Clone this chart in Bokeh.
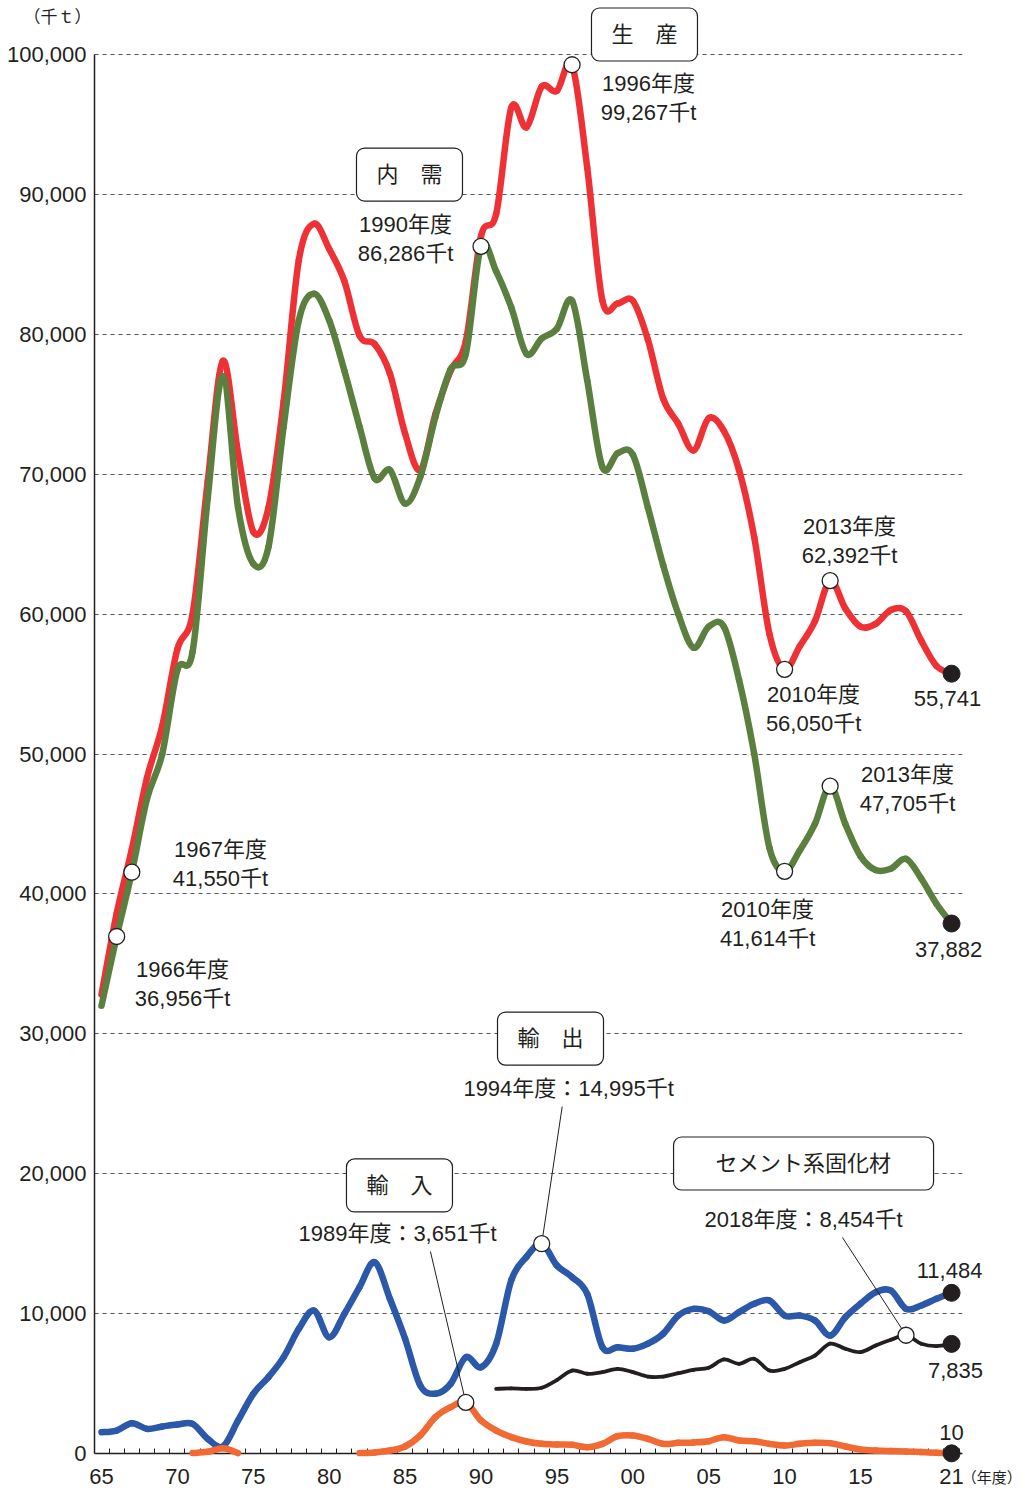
import math
from bokeh.plotting import figure
from bokeh.models import Range1d, FixedTicker, NumeralTickFormatter, Label
from bokeh.core.properties import value
from bokeh.embed import file_html
from bokeh.resources import INLINE

NaN = float("nan")

# ---------------- data (thousand tonnes, fiscal years) ----------------
years = list(range(1965, 2022))

production = [
    32800, 38600, 43200, 48300, 52000, 57500, 60000, 69500, 78100, 71500,
    65900, 67600, 75200, 85300, 87900, 86100, 83800, 79900, 79300, 77200,
    72900, 70300, 74300, 77400, 79500, 87000, 88600, 96200, 94800, 97700,
    97400, 99267, 91900, 82400, 82200, 82400, 79600, 75400, 73600, 71700,
    74000, 73100, 70300, 65500, 58600, 56050, 57700, 59500, 62392, 60400,
    59100, 59300, 60300, 60200, 58100, 56300, 55741]

domestic = [
    32000, 36956, 41550, 46800, 50000, 56000, 57300, 68300, 77000, 67600,
    63600, 64800, 73400, 81000, 82900, 81000, 77400, 73400, 69700, 70300,
    67900, 69800, 74100, 77500, 78600, 86286, 84500, 81900, 78600, 79700,
    80400, 82400, 76700, 70500, 71500, 71400, 67600, 63500, 60000, 57600,
    59100, 59100, 55300, 50000, 43300, 41614, 43100, 45000, 47705, 45000,
    42700, 41700, 41800, 42500, 41100, 39300, 37882]

exports = [
    1520, 1640, 2170, 1760, 1930, 2070, 2120, 1050, 500, 2360,
    4270, 5460, 6890, 8910, 10220, 8310, 9980, 11890, 13670, 11060,
    8200, 4860, 4270, 4980, 6880, 6170, 7840, 12400, 14060, 14995,
    13440, 12610, 11400, 7600, 7600, 7490, 7850, 8560, 9860, 10340,
    10170, 9510, 10100, 10700, 10940, 9860, 9860, 9510, 8430, 9740,
    10700, 11530, 11650, 10340, 10580, 11060, 11484]

imports = [
    NaN, NaN, NaN, NaN, NaN, NaN, 30, 120, 380, 30,
    NaN, NaN, NaN, NaN, NaN, NaN, NaN, 30, 70, 210,
    500, 1300, 2600, 3310, 3651, 2360, 1640, 1170, 860, 690,
    640, 620, 450, 690, 1240, 1290, 1050, 690, 760, 790,
    880, 1170, 930, 880, 690, 570, 690, 760, 740, 500,
    290, 210, 170, 140, 100, 50, 10]

solid_years = list(range(1991, 2022))
solidifier = [
    4620, 4650, 4620, 4700, 5250, 5930, 5700, 5820, 6050, 5820,
    5500, 5500, 5740, 5980, 6130, 6720, 6410, 6770, 5930, 6050,
    6530, 7000, 7850, 7490, 7250, 7720, 8130, 8454, 7850, 7680, 7835]

y_ticks = [0, 10000, 20000, 30000, 40000, 50000, 60000, 70000, 80000, 90000, 100000]
x_tick_years = [1965, 1970, 1975, 1980, 1985, 1990, 1995, 2000, 2005, 2010, 2015, 2021]
x_tick_labels = ["65", "70", "75", "80", "85", "90", "95", "00", "05", "10", "15", "21"]

# ---------------- styling ----------------
FONT = "Liberation Sans, Noto Sans CJK JP"
INK = "#231F20"
C_PROD = "#EE3135"
C_DOM = "#5A7F3F"
C_EXP = "#2B58A8"
C_IMP = "#F26A33"
C_SOL = "#231F20"

X0, X1 = 1964.54, 2021.72
p = figure(width=1022, height=1490, title=None,
           x_range=Range1d(X0, X1), y_range=Range1d(0, 103860),
           output_backend="svg", toolbar_location=None,
           min_border_left=94, min_border_right=60,
           min_border_top=0, min_border_bottom=37,
           background_fill_color="white", border_fill_color="white")
p.outline_line_color = None

# axes
p.yaxis.ticker = FixedTicker(ticks=y_ticks)
p.yaxis.formatter = NumeralTickFormatter(format="0,0")
p.yaxis.bounds = (0, 100000)
p.yaxis.axis_line_color = INK
p.yaxis.axis_line_width = 1.5
p.yaxis.major_tick_line_color = None
p.yaxis.minor_tick_line_color = None
p.yaxis.major_label_standoff = 2
p.yaxis.major_label_text_font = FONT
p.yaxis.major_label_text_font_size = "22px"
p.yaxis.major_label_text_color = INK

p.xaxis.ticker = FixedTicker(ticks=x_tick_years,
                             minor_ticks=[y + 0.5 for y in years])
p.xaxis.major_label_overrides = {y: l for y, l in zip(x_tick_years, x_tick_labels)}
p.xaxis.bounds = (X0, X1)
p.xaxis.axis_line_color = INK
p.xaxis.axis_line_width = 1.5
p.xaxis.major_tick_line_color = None
p.xaxis.minor_tick_line_color = INK
p.xaxis.minor_tick_line_width = 1
p.xaxis.minor_tick_in = 5
p.xaxis.minor_tick_out = 0
p.xaxis.major_label_standoff = 9
p.xaxis.major_label_text_font = FONT
p.xaxis.major_label_text_font_size = "22px"
p.xaxis.major_label_text_color = INK

p.xgrid.visible = False
p.ygrid.ticker = FixedTicker(ticks=y_ticks[1:])
p.ygrid.grid_line_color = "#555555"
p.ygrid.grid_line_width = 1
p.ygrid.grid_line_dash = "4 4"


def smooth_segments(xs, ys):
    """Cubic Bezier pieces (Catmull-Rom control points) through the data points."""
    runs, cur = [], []
    for x, y in zip(xs, ys):
        if y is None or (isinstance(y, float) and math.isnan(y)):
            if cur:
                runs.append(cur)
            cur = []
        else:
            cur.append((x, y))
    if cur:
        runs.append(cur)
    out = dict(x0=[], y0=[], x1=[], y1=[], cx0=[], cy0=[], cx1=[], cy1=[])
    for pts in runs:
        n = len(pts)
        for i in range(n - 1):
            pa = pts[i - 1] if i > 0 else pts[i]
            p0, p1 = pts[i], pts[i + 1]
            pb = pts[i + 2] if i + 2 < n else pts[i + 1]
            out["x0"].append(p0[0]); out["y0"].append(p0[1])
            out["x1"].append(p1[0]); out["y1"].append(p1[1])
            out["cx0"].append(p0[0] + (p1[0] - pa[0]) / 6.0)
            out["cy0"].append(p0[1] + (p1[1] - pa[1]) / 6.0)
            out["cx1"].append(p1[0] - (pb[0] - p0[0]) / 6.0)
            out["cy1"].append(p1[1] - (pb[1] - p0[1]) / 6.0)
    return out


series = [
    (years, production, C_PROD, 6.5),
    (years, domestic, C_DOM, 6.5),
    (years, exports, C_EXP, 6.5),
    (solid_years, solidifier, C_SOL, 3.8),
    (years, imports, C_IMP, 6.5),
]
for xs, ys, col, lw in series:
    seg = smooth_segments(xs, ys)
    r = p.bezier(line_color=col, line_width=lw, line_cap="round", **seg)
    r.level = "overlay"


def val(xs, ys, yr):
    return ys[xs.index(yr)]


# ---------------- leader lines ----------------
leaders = [
    ((1995.35, 24800), (1994, val(years, exports, 1994))),
    ((1986.67, 14440), (1989, val(years, imports, 1989))),
    ((2013.81, 15440), (2018, val(solid_years, solidifier, 2018))),
]
r = p.segment(x0=[a[0][0] for a in leaders], y0=[a[0][1] for a in leaders],
              x1=[a[1][0] for a in leaders], y1=[a[1][1] for a in leaders],
              line_color=INK, line_width=1)
r.level = "overlay"

# ---------------- highlighted points ----------------
open_pts = [
    (years, production, 1996), (years, production, 2010), (years, production, 2013),
    (years, domestic, 1966), (years, domestic, 1967), (years, domestic, 1990),
    (years, domestic, 2010), (years, domestic, 2013),
    (years, exports, 1994), (years, imports, 1989),
    (solid_years, solidifier, 2018),
]
r = p.scatter(x=[t[2] for t in open_pts], y=[val(t[0], t[1], t[2]) for t in open_pts],
              size=16, fill_color="white", line_color=INK, line_width=1.3)
r.level = "overlay"

end_series = [production, domestic, exports, solidifier, imports]
r = p.scatter(x=[2021] * len(end_series), y=[s[-1] for s in end_series],
              size=17, fill_color=INK, line_color=INK)
r.level = "overlay"


# ---------------- texts ----------------
def yr_lbl(y):
    return f"{y}年度"


def kt(v):
    return f"{v:,}千t"


tx, ty, tt = [], [], []

point_texts = [
    (2001.04, 97930, 95850, 1996, production),
    (1985.03, 87850, 85780, 1990, domestic),
    (2014.28, 66260, 64190, 2013, production),
    (2011.91, 54250, 52180, 2010, production),
    (2018.10, 48530, 46460, 2013, domestic),
    (2008.88, 38880, 36810, 2010, domestic),
    (1972.84, 43170, 41100, 1967, domestic),
    (1970.34, 34600, 32520, 1966, domestic),
]
for x, y1, y2, yr, s in point_texts:
    tx += [x, x]; ty += [y1, y2]
    tt += [yr_lbl(yr), kt(val(years, s, yr))]

for x, y, t in [
    (1995.77, 26090, f"{yr_lbl(1994)}：{kt(val(years, exports, 1994))}"),
    (1984.50, 15730, f"{yr_lbl(1989)}：{kt(val(years, imports, 1989))}"),
    (2011.25, 16730, f"{yr_lbl(2018)}：{kt(val(solid_years, solidifier, 2018))}"),
    (2020.73, 53970, f"{production[-1]:,}"),
    (2020.80, 36030, f"{domestic[-1]:,}"),
    (2020.87, 13080, f"{exports[-1]:,}"),
    (2021.26, 5930, f"{solidifier[-1]:,}"),
    (2021.00, 1500, f"{imports[-1]:,}"),
]:
    tx.append(x); ty.append(y); tt.append(t)

r = p.text(x=tx, y=ty, text=tt, text_font=value(FONT), text_font_size="22px",
           text_color=INK, text_align="center", text_baseline="middle")
r.level = "overlay"

r = p.text(x=[1962.10], y=[102640], text=["（千ｔ）"],
           text_font=value(FONT), text_font_size="17px",
           text_color=INK, text_align="center", text_baseline="middle")
r.level = "overlay"
r = p.text(x=[2023.65], y=[-1720], text=["（年度）"],
           text_font=value(FONT), text_font_size="15px",
           text_color=INK, text_align="center", text_baseline="middle")
r.level = "overlay"

# ---------------- boxed series names ----------------
boxes = [
    (2000.77, 101430, "生　産", 20),
    (1985.29, 91420, "内　需", 20),
    (1994.58, 29660, "輸　出", 20),
    (1984.63, 19160, "輸　入", 20),
    (2011.25, 20730, "セメント系固化材", 42),
]
for x, y, text, padx in boxes:
    p.add_layout(Label(x=x, y=y, text=text, x_units="data", y_units="data",
                       text_font=FONT, text_font_size="22px", text_color=INK,
                       text_align="center", text_baseline="middle",
                       background_fill_color="white",
                       border_line_color=INK, border_line_width=1.2,
                       border_radius=8,
                       padding=dict(left=padx, right=padx, top=14, bottom=14)))

open("out.html", "w").write(file_html(p, INLINE))
